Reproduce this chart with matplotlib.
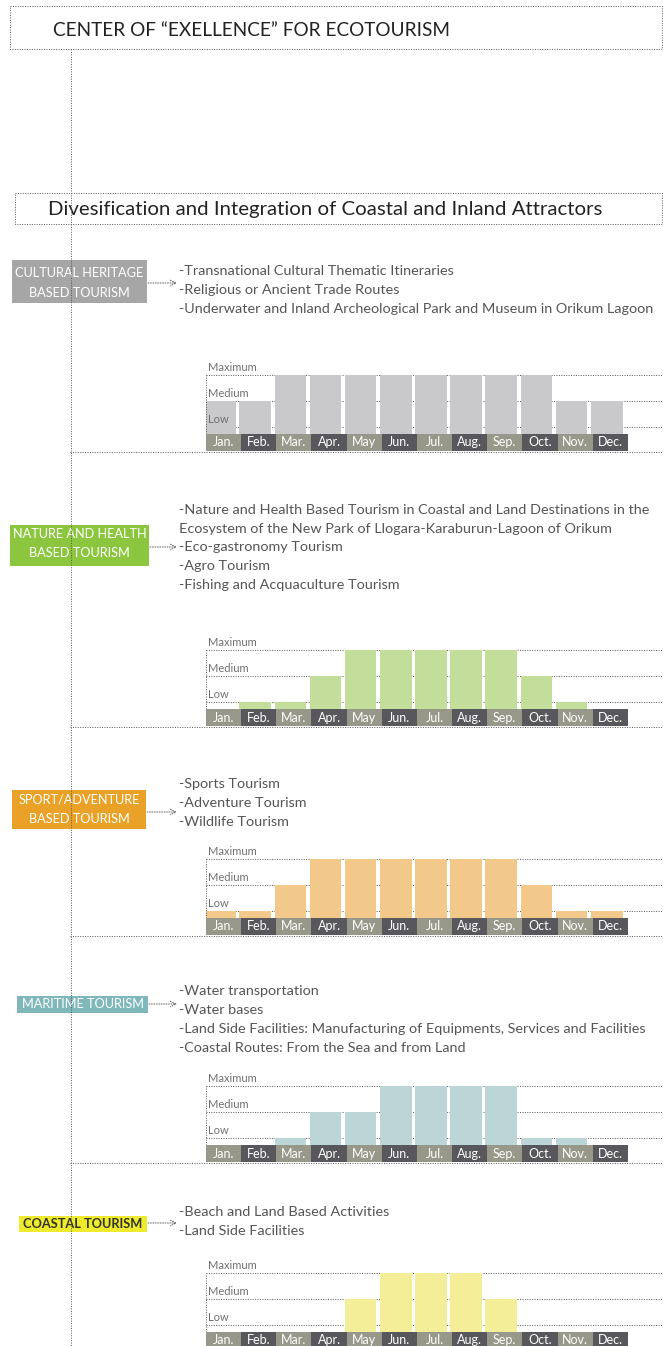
import matplotlib.pyplot as plt
from matplotlib.patches import Rectangle

plt.rcParams['font.family'] = ['Lato', 'DejaVu Sans']

W, H = 663, 1346

# --- content -------------------------------------------------------------
title = "CENTER OF \u201cEXELLENCE\u201d FOR ECOTOURISM"
subtitle = "Divesification and Integration of Coastal and Inland Attractors"

months = ["Jan.", "Feb.", "Mar.", "Apr.", "May", "Jun.",
          "Jul.", "Aug.", "Sep.", "Oct.", "Nov.", "Dec."]
level_names = ["Low", "Medium", "Maximum"]

# season intensity: 0 none, 1 low, 2 medium, 3 maximum
cultural = [2, 2, 3, 3, 3, 3, 3, 3, 3, 3, 2, 2]
nature = [0, 1, 1, 2, 3, 3, 3, 3, 3, 2, 1, 0]
sport = [1, 1, 2, 3, 3, 3, 3, 3, 3, 2, 1, 1]
maritime = [0, 0, 1, 2, 2, 3, 3, 3, 3, 1, 1, 0]
coastal = [0, 0, 0, 0, 2, 3, 3, 3, 2, 0, 0, 0]

cultural_items = [
    "-Transnational Cultural Thematic Itineraries",
    "-Religious or Ancient Trade Routes",
    "-Underwater and Inland Archeological Park and Museum in Orikum Lagoon",
]
nature_items = [
    "-Nature and Health Based Tourism in Coastal and Land Destinations in the",
    "Ecosystem of the New Park of Llogara-Karaburun-Lagoon of Orikum",
    "-Eco-gastronomy Tourism",
    "-Agro Tourism",
    "-Fishing and Acquaculture Tourism",
]
sport_items = ["-Sports Tourism", "-Adventure Tourism", "-Wildlife Tourism"]
maritime_items = [
    "-Water transportation",
    "-Water bases",
    "-Land Side Facilities: Manufacturing of Equipments, Services and Facilities",
    "-Coastal Routes: From the Sea and from Land",
]
coastal_items = ["-Beach and Land Based Activities", "-Land Side Facilities"]

# label, values, items, box colour, label colour, bar colour, layout (px)
sections = [
    dict(label=["CULTURAL HERITAGE", "BASED TOURISM"], values=cultural, items=cultural_items,
         box="#a6a6a6", fg="white", bar="#c9c9cb",
         bx=(12, 147, 260, 303), ly=[273, 293], ay=283, ty=271, dy=19, top=375),
    dict(label=["NATURE AND HEALTH", "BASED TOURISM"], values=nature, items=nature_items,
         box="#8cc63f", fg="white", bar="#c3de9b",
         bx=(10, 149, 525, 566), ly=[534, 553], ay=547, ty=510, dy=18.7, top=650),
    dict(label=["SPORT/ADVENTURE", "BASED TOURISM"], values=sport, items=sport_items,
         box="#e9a227", fg="white", bar="#f3c98b",
         bx=(12, 146, 790, 829), ly=[800, 819], ay=812, ty=784, dy=19, top=859),
    dict(label=["MARITIME TOURISM"], values=maritime, items=maritime_items,
         box="#80b7ba", fg="white", bar="#bcd5d7",
         bx=(17, 148, 996, 1013), ly=[1004], ay=1004, ty=991, dy=19, top=1086),
    dict(label=["COASTAL TOURISM"], values=coastal, items=coastal_items,
         box="#eeea2e", fg="#333326", bar="#f3ee97",
         bx=(19, 147, 1216, 1232), ly=[1224], ay=1223, ty=1212, dy=19, top=1273),
]

strip_colors = ["#97978a", "#58585c"]
line_kw = dict(color="#555555", lw=0.7, linestyle=(0, (1, 1.5)))
txt_color = "#555555"

fig = plt.figure(figsize=(W / 100, H / 100), dpi=100)

# overlay in pixel coordinates
ov = fig.add_axes([0, 0, 1, 1])
ov.set_xlim(0, W)
ov.set_ylim(H, 0)
ov.axis("off")

# headers
ov.add_patch(Rectangle((10, 6), W - 11, 43, fill=False, **line_kw))
ov.text(53, 31, title, fontsize=13.7, color="#222222", va="center")
ov.add_patch(Rectangle((15, 193), W - 16, 31, fill=False, **line_kw))
ov.text(48, 209, subtitle, fontsize=14.7, color="#222222", va="center")

# vertical spine
ov.plot([70.5, 70.5], [49, H], zorder=5, **line_kw)

UNIT = 26.0  # px per level step

for s in sections:
    x0, x1, y0, y1 = s["bx"]
    ov.add_patch(Rectangle((x0, y0), x1 - x0, y1 - y0, color=s["box"], lw=0, zorder=2))
    bold = "bold" if s["fg"] != "white" else "normal"
    for t, y in zip(s["label"], s["ly"]):
        ov.text((x0 + x1) / 2, y, t, ha="center", va="center", color=s["fg"],
                fontsize=9.2, fontweight=bold, zorder=3)
    ov.annotate("", xy=(177, s["ay"]), xytext=(x1 + 1, s["ay"]),
                arrowprops=dict(arrowstyle="->", color="#666666", lw=0.7,
                                linestyle=(0, (1, 1.5)), shrinkA=0, shrinkB=0))
    for i, t in enumerate(s["items"]):
        ov.text(179, s["ty"] + i * s["dy"], t, fontsize=10.35, color=txt_color, va="center")

    T = s["top"]
    if T + 76 < H:
        ov.plot([70, W], [T + 76.5, T + 76.5], **line_kw)

    # chart axes: data y = 3 - (px - T) / UNIT
    ybot = 3 - 76 / UNIT
    ytop = 3 + 5 / UNIT
    ax = fig.add_axes([206 / W, 1 - (T + 76) / H, (W - 206) / W, 81 / H])
    ax.set_xlim(-0.5, 12.5)
    ax.set_ylim(ybot, ytop)
    ax.axis("off")

    base = 3 - 59 / UNIT
    xs = list(range(12))
    vals = s["values"]
    ax.bar([x - 0.1 for x in xs], [v - base if v > 0 else 0 for v in vals], width=0.9,
           bottom=base, color=s["bar"], zorder=2)
    ax.bar(xs, [base - ybot] * 12, width=1.0, bottom=ybot,
           color=[strip_colors[i % 2] for i in xs], zorder=3)
    for i, m in enumerate(months):
        ax.text(i, (base + ybot) / 2, m, ha="center", va="center", color="white",
                fontsize=9, zorder=4)
    for lv, name in enumerate(level_names, start=1):
        ax.axhline(lv, zorder=1, **line_kw)
        ax.text(-0.45, lv + 0.08, name, fontsize=8, color="#707070", va="bottom",
                ha="left", zorder=4)
    ax.plot([-0.49, -0.49], [base, 3], **line_kw)

fig.savefig("out.png", dpi=100)
